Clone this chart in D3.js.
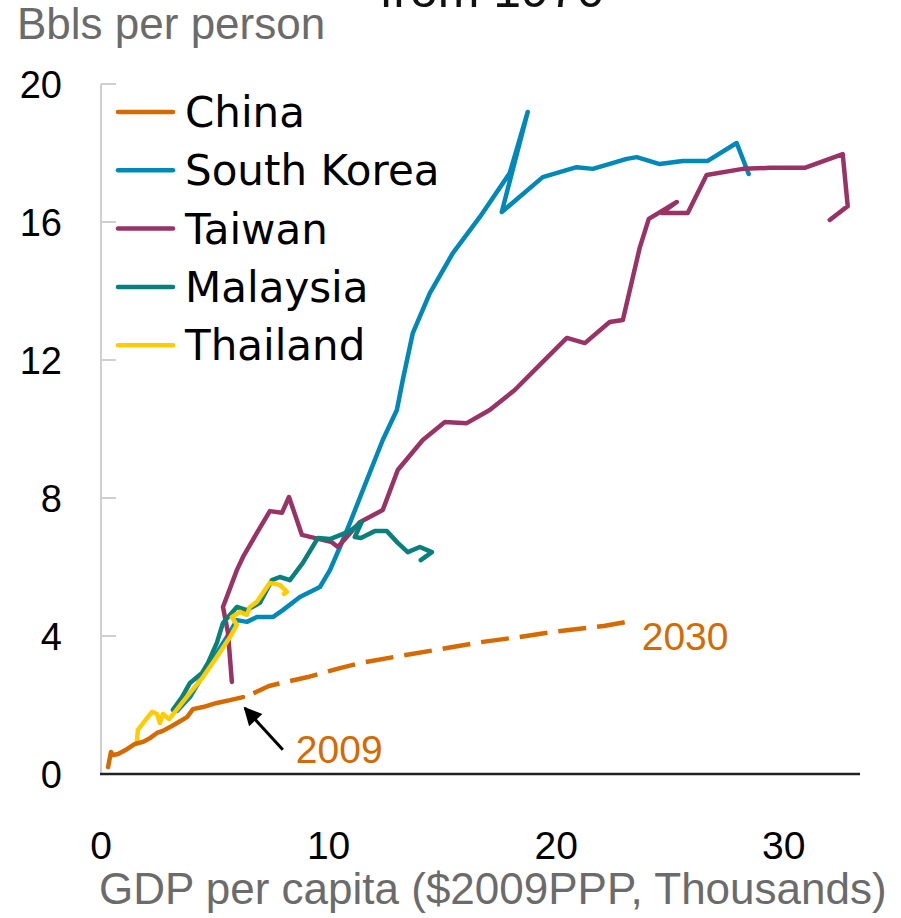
<!DOCTYPE html>
<html>
<head>
<meta charset="utf-8">
<script src="https://cdn.jsdelivr.net/npm/d3@7"></script>
<style>
  body { margin: 0; background: #fff; }
  svg { display: block; font-family: "Liberation Sans", Arial, sans-serif; }
</style>
</head>
<body>
<div id="main"></div>
<script>
// Data: [GDP per capita (thousands $2009PPP), bbls per person]
const china = [
  [0.31, 0.2], [0.44, 0.64], [0.53, 0.55], [0.75, 0.58], [1.14, 0.72], [1.49, 0.87],
  [1.84, 0.93], [2.15, 1.04], [2.46, 1.19], [2.72, 1.25], [3.03, 1.36], [3.34, 1.48],
  [3.78, 1.65], [4.04, 1.88], [4.48, 1.94], [5.09, 2.06], [5.67, 2.14], [6.24, 2.23],
];
const chinaForecast = [
  [6.24, 2.23], [6.72, 2.35], [7.38, 2.55], [8.12, 2.67], [9.09, 2.81], [10.5, 3.07],
  [11.42, 3.22], [12.87, 3.39], [15.2, 3.65], [16.78, 3.83], [18.36, 3.97], [19.9, 4.12],
  [22.09, 4.29], [23.1, 4.41],
];
const southKorea = [
  [3.34, 1.83], [3.91, 2.23], [4.35, 2.72], [5.09, 3.51], [5.67, 4.12], [5.97, 4.46],
  [6.41, 4.41], [6.85, 4.55], [7.55, 4.55], [7.99, 4.75], [8.74, 5.13], [9.62, 5.42],
  [10.06, 5.91], [10.5, 6.58], [10.94, 7.28], [11.68, 8.52], [12.38, 9.68], [13.0, 10.55],
  [13.26, 11.42], [13.7, 12.78], [14.45, 13.94], [15.46, 15.1], [16.64, 16.14],
  [17.96, 17.42], [18.75, 19.19], [17.61, 16.29], [19.41, 17.3], [20.9, 17.59],
  [21.61, 17.54], [23.1, 17.83], [23.54, 17.88], [24.55, 17.68], [25.56, 17.77],
  [26.66, 17.77], [27.93, 18.29], [28.46, 17.39],
];
const taiwan = [
  [5.75, 2.67], [5.58, 4.09], [5.36, 4.84], [5.97, 5.91], [6.24, 6.29], [6.85, 6.99],
  [7.42, 7.62], [7.95, 7.57], [8.26, 8.03], [8.83, 6.93], [10.14, 6.72], [10.41, 6.58],
  [11.37, 7.3], [12.38, 7.65], [13.04, 8.81], [14.14, 9.68], [15.11, 10.2], [16.07, 10.17],
  [17.08, 10.55], [18.18, 11.13], [19.28, 11.86], [20.47, 12.64], [21.26, 12.49],
  [22.35, 13.1], [22.93, 13.16], [23.67, 15.25], [24.07, 16.09], [25.3, 16.58],
  [24.64, 16.26], [25.78, 16.26], [26.61, 17.36], [28.2, 17.54], [29.38, 17.57],
  [30.92, 17.57], [32.59, 17.97], [32.81, 16.46], [32.02, 16.06],
];
const malaysia = [
  [3.16, 1.86], [3.56, 2.23], [3.91, 2.64], [4.44, 2.93], [4.7, 3.22], [5.09, 3.8],
  [5.36, 4.38], [5.97, 4.84], [6.41, 4.75], [6.98, 4.96], [7.51, 5.62], [7.86, 5.71],
  [8.3, 5.62], [8.87, 6.12], [9.53, 6.84], [10.06, 6.81], [10.94, 7.04], [11.46, 7.3],
  [11.15, 6.87], [11.42, 6.84], [12.03, 7.04], [12.56, 7.04], [13.04, 6.7], [13.48, 6.43],
  [14.01, 6.58], [14.54, 6.43], [14.05, 6.2],
];
const thailand = [
  [1.58, 0.96], [1.62, 1.28], [1.93, 1.54], [2.24, 1.8], [2.46, 1.74], [2.59, 1.48],
  [2.72, 1.74], [2.99, 1.59], [3.25, 1.8], [3.91, 2.35], [4.48, 2.81], [5.09, 3.39],
  [5.67, 3.97], [5.97, 4.32], [5.75, 4.55], [6.1, 4.7], [6.41, 4.61], [6.54, 4.84],
  [6.85, 4.99], [7.42, 5.54], [7.86, 5.48], [8.17, 5.28], [8.04, 5.22],
];

const seriesNames = ["China", "South Korea", "Taiwan", "Malaysia", "Thailand"];
const seriesColors = ["#d46a00", "#0089b8", "#993366", "#0a807c", "#ffcc00"];
const xTicks = [0, 10, 20, 30];
const yTicks = [0, 4, 8, 12, 16, 20];

// Layout config
const width = 901;
const height = 918;
const margin = { top: 84, right: 41, bottom: 144, left: 101 };
const textGray = "#6b6b6b";

const svg = d3.select("#main").append("svg")
  .attr("width", width)
  .attr("height", height);

const x = d3.scaleLinear().domain([0, 33.35]).range([margin.left, width - margin.right]);
const y = d3.scaleLinear().domain([0, 20]).range([height - margin.bottom, margin.top]);

// Title, cut off at the top edge as in the source
svg.append("text")
  .attr("x", 492)
  .attr("y", 7)
  .attr("text-anchor", "middle")
  .attr("font-size", 50)
  .attr("fill", "#111")
  .text("from 1970");

svg.append("text")
  .attr("x", 17)
  .attr("y", 39)
  .attr("font-size", 44)
  .attr("fill", textGray)
  .text("Bbls per person");

// y axis: gray line, inward ticks
svg.append("line")
  .attr("x1", x(0)).attr("x2", x(0))
  .attr("y1", y(20)).attr("y2", y(0))
  .attr("stroke", "#cfcfcf")
  .attr("stroke-width", 2);

const yg = svg.append("g");
yg.selectAll("line")
  .data(yTicks)
  .join("line")
  .attr("x1", x(0)).attr("x2", x(0) + 15)
  .attr("y1", (d) => y(d)).attr("y2", (d) => y(d))
  .attr("stroke", "#cfcfcf")
  .attr("stroke-width", 2);
yg.selectAll("text")
  .data(yTicks)
  .join("text")
  .attr("x", 62)
  .attr("y", (d) => y(d))
  .attr("dy", "0.36em")
  .attr("text-anchor", "end")
  .attr("font-size", 38)
  .attr("fill", "#000")
  .text((d) => d);

// x axis
svg.append("line")
  .attr("x1", x(0) - 1).attr("x2", width - margin.right)
  .attr("y1", y(0)).attr("y2", y(0))
  .attr("stroke", "#222")
  .attr("stroke-width", 2.5);

svg.append("g").selectAll("text")
  .data(xTicks)
  .join("text")
  .attr("x", (d) => x(d))
  .attr("y", 859)
  .attr("text-anchor", "middle")
  .attr("font-size", 39)
  .attr("fill", "#000")
  .text((d) => d);

svg.append("text")
  .attr("x", 99)
  .attr("y", 904)
  .attr("font-size", 44)
  .attr("fill", textGray)
  .text("GDP per capita ($2009PPP, Thousands)");

// Lines
const line = d3.line().x((d) => x(d[0])).y((d) => y(d[1]));
const allSeries = [china, southKorea, taiwan, malaysia, thailand];
const drawOrder = [1, 2, 3, 4, 0];

const graphg = svg.append("g")
  .attr("fill", "none")
  .attr("stroke-width", 4.5)
  .attr("stroke-linejoin", "round")
  .attr("stroke-linecap", "round");

drawOrder.forEach((i) => {
  graphg.append("path")
    .attr("stroke", seriesColors[i])
    .attr("d", line(allSeries[i]));
});

graphg.append("path")
  .attr("stroke", seriesColors[0])
  .attr("stroke-linecap", "butt")
  .attr("stroke-dasharray", "28,11")
  .attr("stroke-dashoffset", 28)
  .attr("d", line(chinaForecast));

// Annotations
svg.append("defs").append("marker")
  .attr("id", "arrow")
  .attr("viewBox", "0 0 10 10")
  .attr("refX", 9)
  .attr("refY", 5)
  .attr("markerWidth", 6.5)
  .attr("markerHeight", 6)
  .attr("orient", "auto")
  .append("path")
  .attr("d", "M0,0L10,5L0,10Z")
  .attr("fill", "#000");

const arrowFrom = [7.99, 0.7];
const arrowTo = [6.32, 1.91];
svg.append("line")
  .attr("x1", x(arrowFrom[0])).attr("y1", y(arrowFrom[1]))
  .attr("x2", x(arrowTo[0])).attr("y2", y(arrowTo[1]))
  .attr("stroke", "#000")
  .attr("stroke-width", 3)
  .attr("marker-end", "url(#arrow)");

const labels = [
  { text: "2009", at: [8.56, 0.32] },
  { text: "2030", at: [23.76, 3.59] },
];
svg.append("g").selectAll("text")
  .data(labels)
  .join("text")
  .attr("x", (d) => x(d.at[0]))
  .attr("y", (d) => y(d.at[1]))
  .attr("font-size", 39)
  .attr("fill", seriesColors[0])
  .text((d) => d.text);

// Legend
const legend = svg.append("g").attr("transform", "translate(118,112)");
const legendItems = legend.selectAll("g")
  .data(seriesNames)
  .join("g")
  .attr("transform", (d, i) => `translate(0,${i * 58.3})`);
legendItems.append("line")
  .attr("x1", 0).attr("x2", 55)
  .attr("stroke", (d, i) => seriesColors[i])
  .attr("stroke-width", 4.5)
  .attr("stroke-linecap", "round");
legendItems.append("text")
  .attr("x", 67)
  .attr("dy", "0.36em")
  .attr("font-family", "'DejaVu Sans', sans-serif")
  .attr("font-size", 42)
  .attr("fill", "#000")
  .text((d) => d);
</script>
</body>
</html>
